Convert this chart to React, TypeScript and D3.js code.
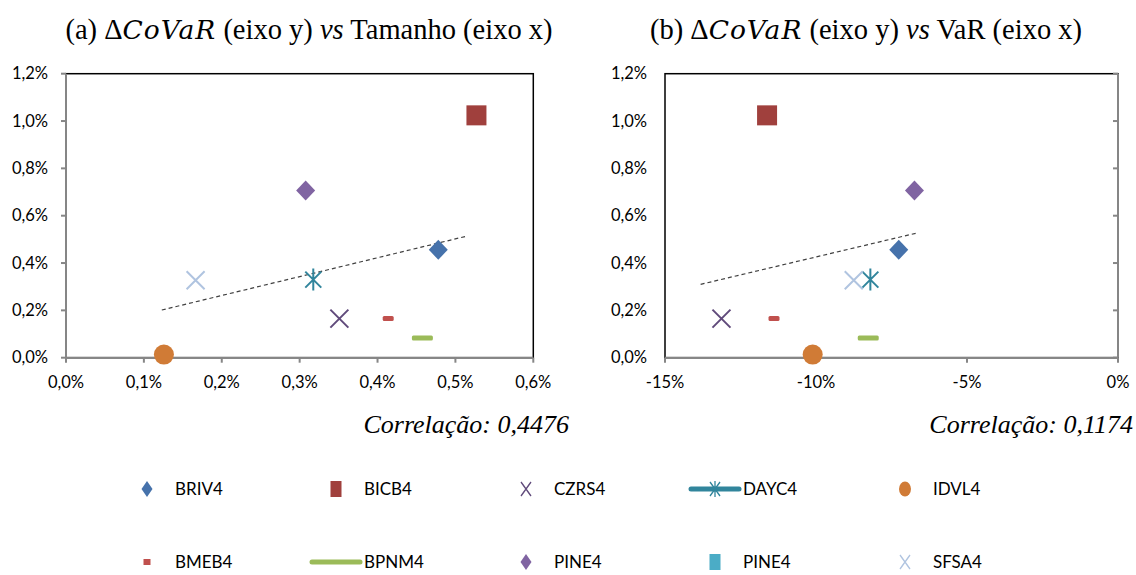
import React from 'react';
import * as d3 from 'd3';

// series, in legend order (two PINE4 entries, the second one has no point)
const tickers = ["BRIV4", "BICB4", "CZRS4", "DAYC4", "IDVL4", "BMEB4", "BPNM4", "PINE4", "PINE4", "SFSA4"];
// ΔCoVaR (%), y in both panels
const deltaCoVaR = [0.456, 1.024, 0.165, 0.330, 0.013, 0.166, 0.083, 0.706, null, 0.327];
// Tamanho (%), x in panel (a)
const tamanho = [0.478, 0.527, 0.351, 0.3175, 0.1257, 0.4137, 0.4576, 0.3077, null, 0.1664];
// VaR (%), x in panel (b)
const varValues = [-7.26, -11.62, -13.13, -8.20, -10.11, -11.39, -8.27, -6.74, null, -8.75];

// trend lines (ends)
const trendA = [[0.123, 0.2015], [0.515, 0.514]];
const trendB = [[-13.82, 0.310], [-6.70, 0.5256]];

const yTicks = [0, 0.2, 0.4, 0.6, 0.8, 1.0, 1.2];
const xTicksA = [0, 0.1, 0.2, 0.3, 0.4, 0.5, 0.6];
const xTicksB = [-15, -10, -5, 0];
const correlations = ["0,4476", "0,1174"];

// marker look per series
const styles = [
  { shape: "diamond", color: "#4672AB" },
  { shape: "square", color: "#A0403D" },
  { shape: "x", color: "#604A7B" },
  { shape: "asterisk", color: "#31859C" },
  { shape: "circle", color: "#D07B36" },
  { shape: "dash", color: "#C0504D" },
  { shape: "longdash", color: "#9BBB59" },
  { shape: "diamond", color: "#8064A2" },
  { shape: "square", color: "#4BACC6" },
  { shape: "x", color: "#B0C4E0" },
];

const sans = "Lato, 'Open Sans', sans-serif";
const serif = "'Liberation Serif', 'Times New Roman', serif";
const mathFont = "'DejaVu Serif', serif";
const gray = "#868686";

function Marker({ shape, color, x, y }) {
  switch (shape) {
    case "diamond":
      return <path d={`M${x},${y - 10} L${x + 9.5},${y} L${x},${y + 10} L${x - 9.5},${y} Z`} fill={color} />;
    case "square":
      return <rect x={x - 10} y={y - 10} width={20} height={20} fill={color} />;
    case "x":
      return <path d={`M${x - 9},${y - 9} L${x + 9},${y + 9} M${x + 9},${y - 9} L${x - 9},${y + 9}`} stroke={color} strokeWidth={2} fill="none" />;
    case "asterisk":
      return <path d={`M${x - 8},${y - 8} L${x + 8},${y + 8} M${x + 8},${y - 8} L${x - 8},${y + 8} M${x},${y - 11} L${x},${y + 11}`} stroke={color} strokeWidth={2} fill="none" />;
    case "circle":
      return <circle cx={x} cy={y} r={10} fill={color} />;
    case "dash":
      return <rect x={x - 5.5} y={y - 2.5} width={11} height={5} rx={1.5} fill={color} />;
    case "longdash":
      return <rect x={x - 10.5} y={y - 2.5} width={21} height={5} rx={1.5} fill={color} />;
    default:
      return null;
  }
}

function LegendMarker({ shape, color, x, y }) {
  switch (shape) {
    case "diamond":
      return <path d={`M${x},${y - 8} L${x + 5.5},${y} L${x},${y + 8} L${x - 5.5},${y} Z`} fill={color} />;
    case "square":
      return <rect x={x - 5.5} y={y - 8} width={11} height={16} fill={color} />;
    case "x":
      return <path d={`M${x - 5},${y - 7} L${x + 5},${y + 7} M${x + 5},${y - 7} L${x - 5},${y + 7}`} stroke={color} strokeWidth={1.3} fill="none" />;
    case "asterisk":
      return (
        <g>
          <line x1={x - 24} x2={x + 24} y1={y} y2={y} stroke={color} strokeWidth={5} strokeLinecap="round" />
          <path d={`M${x - 5},${y - 7} L${x + 5},${y + 7} M${x + 5},${y - 7} L${x - 5},${y + 7} M${x},${y - 8} L${x},${y + 8}`} stroke={color} strokeWidth={1.3} fill="none" />
        </g>
      );
    case "circle":
      return <ellipse cx={x} cy={y} rx={6} ry={7.5} fill={color} />;
    case "dash":
      return <rect x={x - 3.5} y={y - 3} width={7} height={6} fill={color} />;
    case "longdash":
      return <line x1={x - 24} x2={x + 24} y1={y} y2={y} stroke={color} strokeWidth={5} strokeLinecap="round" />;
    default:
      return null;
  }
}

const fmtA = (v) => v.toFixed(1).replace(".", ",") + "%";
const fmtB = (v) => v.toFixed(0) + "%";

function Panel({ left, right, xDomain, xTicks, xs, trend, fmt, yAxisRight, title, corr, corrRight }) {
  const top = 73.7, bottom = 357.7;
  const x = d3.scaleLinear().domain(xDomain).range([left, right]);
  const y = d3.scaleLinear().domain([0, 1.2]).range([bottom, top]);
  const line = d3.line().x(d => x(d[0])).y(d => y(d[1]));
  const axisX = yAxisRight ? right : left;
  return (
    <g>
      {title}
      {/* plot frame */}
      <rect x={left} y={top} width={right - left} height={bottom - top} fill="none" stroke="#000" strokeWidth={1.5} />
      {/* y axis */}
      <line x1={axisX} x2={axisX} y1={top} y2={bottom} stroke={gray} strokeWidth={2} />
      {yTicks.map(t => (
        <line key={t} x1={axisX - 5} x2={axisX} y1={y(t)} y2={y(t)} stroke={gray} strokeWidth={2} />
      ))}
      {yTicks.map(t => (
        <text key={t} x={left - 18} y={y(t)} dy="0.35em" textAnchor="end" fontFamily={sans} fontSize={16.5} fill="#000">{fmtA(t)}</text>
      ))}
      {/* x axis */}
      <line x1={left} x2={right} y1={bottom} y2={bottom} stroke={gray} strokeWidth={2} />
      {xTicks.map(t => (
        <line key={t} x1={x(t)} x2={x(t)} y1={bottom} y2={bottom + 5} stroke={gray} strokeWidth={2} />
      ))}
      {xTicks.map(t => (
        <text key={t} x={x(t)} y={bottom + 30} textAnchor="middle" fontFamily={sans} fontSize={16.5} fill="#000">{fmt(t)}</text>
      ))}
      {/* trend */}
      <path d={line(trend)} fill="none" stroke="#404040" strokeWidth={1.2} strokeDasharray="4,3" />
      {/* points */}
      {tickers.map((name, i) => {
        if (xs[i] == null || deltaCoVaR[i] == null) return null;
        return <Marker key={i} shape={styles[i].shape} color={styles[i].color} x={x(xs[i])} y={y(deltaCoVaR[i])} />;
      })}
      <text x={corrRight} y={433} textAnchor="end" fontFamily={serif} fontStyle="italic" fontSize={26} fill="#000">
        Correlação: {corr}
      </text>
    </g>
  );
}

function Title({ cx, label, xName }) {
  return (
    <text x={cx} y={39} textAnchor="middle" fontFamily={serif} fontSize={28.5} fill="#000">
      <tspan>{label} Δ</tspan>
      <tspan fontFamily={mathFont} fontStyle="italic" fontSize={26.5} letterSpacing={1}>CoVaR</tspan>
      <tspan> (eixo y) </tspan>
      <tspan fontStyle="italic">vs</tspan>
      <tspan> {xName} (eixo x)</tspan>
    </text>
  );
}

export default function App() {
  const colX = [147, 336, 526, 715, 905];
  const rowY = [489, 562];
  return (
    <svg width={1136} height={575} style={{ position: "absolute", left: 0, top: 0, background: "#fff" }}>
      <rect width={1136} height={575} fill="#fff" />
      <Panel
        left={66} right={533.3} xDomain={[0, 0.6]} xTicks={xTicksA} xs={tamanho} trend={trendA}
        fmt={fmtA} yAxisRight={false} corr={correlations[0]} corrRight={569}
        title={<Title cx={309} label="(a)" xName="Tamanho" />}
      />
      <Panel
        left={665} right={1118} xDomain={[-15, 0]} xTicks={xTicksB} xs={varValues} trend={trendB}
        fmt={fmtB} yAxisRight={true} corr={correlations[1]} corrRight={1133}
        title={<Title cx={866} label="(b)" xName="VaR" />}
      />
      {/* legend */}
      {tickers.map((name, i) => {
        const cx = colX[i % 5];
        const cy = rowY[Math.floor(i / 5)];
        return (
          <g key={i}>
            <LegendMarker shape={styles[i].shape} color={styles[i].color} x={cx} y={cy} />
            <text x={cx + 28} y={cy} dy="0.36em" fontFamily={sans} fontSize={17} fill="#000">{name}</text>
          </g>
        );
      })}
    </svg>
  );
}
